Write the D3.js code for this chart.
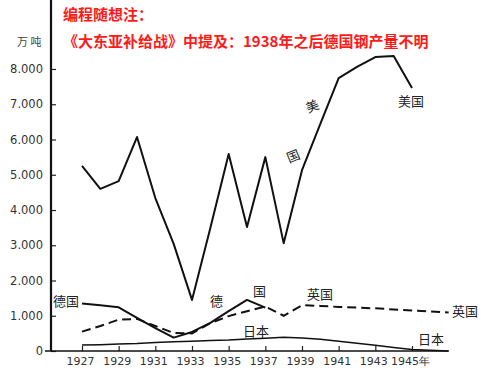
<!DOCTYPE html>
<html>
<head>
<meta charset="utf-8">
<script src="https://cdn.jsdelivr.net/npm/d3@7"></script>
<style>
  body { margin: 0; background: #fff; }
  .tick text { font-family: "DejaVu Sans", sans-serif; fill: #333; }
  .cn { font-family: "Noto Sans CJK SC", sans-serif; fill: #222; font-size: 13px; }
  .note { font-family: "Noto Sans CJK SC", sans-serif; fill: #ff1a1a; font-size: 15px; font-weight: bold; }
</style>
</head>
<body>
<script>
//data (unit: 10,000 tons)
var years   = [1927, 1928, 1929, 1930, 1931, 1932, 1933, 1934, 1935, 1936, 1937,
               1938, 1939, 1940, 1941, 1942, 1943, 1944, 1945, 1946, 1947];
var usSteel = [5250, 4600, 4820, 6070, 4340, 3040, 1450, 3490, 5590, 3520, 5500,
               3060, 5130, 6440, 7740, 8060, 8340, 8370, 7460];
var deSteel = [1350, 1300, 1240, 940, 650, 380, 540, 800, 1130, 1450, 1230];
var ukSteel = [550, 710, 890, 910, 710, 510, 500, 790, 990, 1130, 1260,
               1000, 1300, 1280, 1250, 1230, 1210, 1180, 1150, 1120, 1090];
var jpSteel = [170, 180, 200, 210, 240, 260, 280, 300, 310, 340, 360,
               390, 370, 330, 280, 220, 160, 100, 40, 20, 0];
var xTicks  = [1927, 1929, 1931, 1933, 1935, 1937, 1939, 1941, 1943, 1945];
var yTicks  = [0, 1000, 2000, 3000, 4000, 5000, 6000, 7000, 8000];

var width = 481, height = 372;
var axisX = 51, axisY = 351;

//scales
var xScale = d3.scaleLinear( )
               .domain([1927, 1945])
               .range([82, 412]);

var yScale = d3.scaleLinear( )
               .domain([0, 8000])
               .range([axisY, 69]);

var xAxis = d3.axisBottom( )
              .scale(xScale)
              .tickValues(xTicks)
              .tickFormat(function(d){ return d === 1945 ? d + "年" : d; })
              .tickSizeInner(-5)
              .tickSizeOuter(0)
              .tickPadding(6);

var yAxis = d3.axisLeft( )
              .scale(yScale)
              .tickValues(yTicks)
              .tickFormat(function(d){ return d === 0 ? "0" : d3.format(",")(d).replace(",", "."); })
              .tickSizeInner(-5)
              .tickSizeOuter(0)
              .tickPadding(8);

var _svg = d3.select("body")
             .append("svg")
             .attr("width", width)
             .attr("height", height);

    //axes
    var gy = _svg.append("g")
        .attr("transform", "translate(" + axisX + ",0)")
        .call(yAxis);
    gy.select(".domain").remove();
    gy.selectAll("text").style("font-size", "11.5px");
    gy.selectAll("line").attr("stroke", "#222").attr("stroke-width", 1.2);

    var gx = _svg.append("g")
        .attr("transform", "translate(0," + axisY + ")")
        .call(xAxis);
    gx.select(".domain").remove();
    gx.selectAll("text").style("font-size", "11px").attr("dx", -2);
    gx.selectAll("line").attr("stroke", "#222").attr("stroke-width", 1.2);

    _svg.append("path")
        .attr("d", "M " + axisX + " 0 L " + axisX + " " + axisY)
        .attr("stroke", "#111")
        .attr("stroke-width", 2.2);

    _svg.append("path")
        .attr("d", "M " + (axisX - 6) + " " + axisY + " L " + xScale(1947) + " " + axisY)
        .attr("stroke", "#111")
        .attr("stroke-width", 1.6);

    //unit label
    _svg.append("text")
        .attr("class", "cn")
        .attr("x", 17)
        .attr("y", 46)
        .style("font-size", "11px")
        .style("fill", "#444")
        .text("万 吨");

    //red note
    _svg.append("text")
        .attr("class", "note")
        .attr("x", 63)
        .attr("y", 20)
        .text("编程随想注：");

    _svg.append("text")
        .attr("class", "note")
        .attr("x", 63)
        .attr("y", 47)
        .text("《大东亚补给战》中提及：1938年之后德国钢产量不明");

//lines
var _g1 = _svg.append("g");

function linePath(values){
    return d3.line( )
             .x(function(d, i){ return xScale(years[i]); })
             .y(function(d){ return yScale(d); })(values);
}

    _g1.append("path")
       .attr("d", linePath(usSteel))
       .attr("stroke", "#111")
       .attr("stroke-width", 2)
       .attr("stroke-linejoin", "round")
       .attr("fill", "none");

    _g1.append("path")
       .attr("d", linePath(deSteel))
       .attr("stroke", "#111")
       .attr("stroke-width", 2)
       .attr("stroke-linejoin", "round")
       .attr("fill", "none");

    _g1.append("path")
       .attr("d", linePath(ukSteel))
       .attr("stroke", "#111")
       .attr("stroke-width", 2)
       .attr("stroke-dasharray", "9,5")
       .attr("fill", "none");

    _g1.append("path")
       .attr("d", linePath(jpSteel))
       .attr("stroke", "#111")
       .attr("stroke-width", 1.5)
       .attr("fill", "none");

    //series labels
    function label(txt, x, y, rot){
        var t = _svg.append("text")
            .attr("class", "cn")
            .attr("x", x)
            .attr("y", y)
            .text(txt);
        if (rot) t.attr("transform", "rotate(" + rot + "," + x + "," + y + ")");
        return t;
    }

    label("德国", 53, 306);
    label("德", 210, 306);
    label("国", 253, 296);
    label("英国", 307, 299);
    label("英国", 452, 316);
    label("日本", 243, 336);
    label("日本", 418, 344);
    label("美国", 398, 106);
    label("美", 308, 113, -22);
    label("国", 289, 163, -22);
</script>
</body>
</html>
